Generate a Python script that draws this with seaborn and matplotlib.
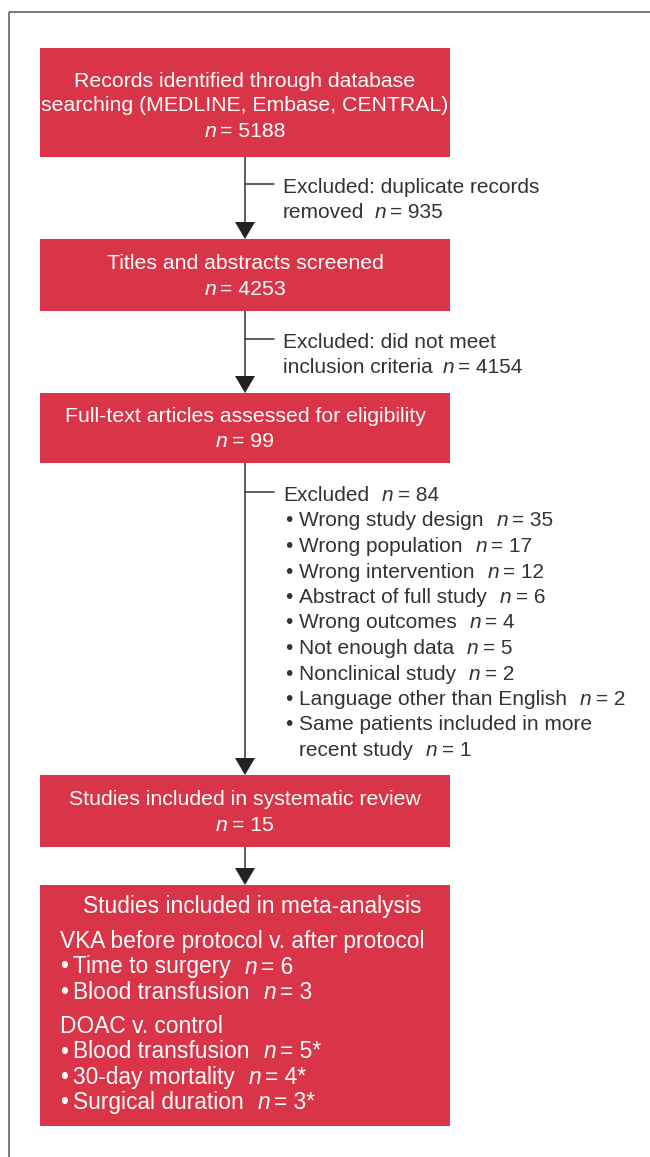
import matplotlib
matplotlib.use("Agg")
import matplotlib.pyplot as plt
from matplotlib.patches import Rectangle, Polygon
import seaborn as sns

# ---------------- data ----------------
stage_titles = [
    ["Records identified through database", "searching (MEDLINE, Embase, CENTRAL)"],
    ["Titles and abstracts screened"],
    ["Full-text articles assessed for eligibility"],
    ["Studies included in systematic review"],
]
stage_counts = ["5188", "4253", "99", "15"]

excluded_text = [
    ["Excluded: duplicate records", "removed"],
    ["Excluded: did not meet", "inclusion criteria"],
    ["Excluded"],
]
excluded_counts = ["935", "4154", "84"]

reason_labels = ["Wrong study design", "Wrong population", "Wrong intervention",
                 "Abstract of full study", "Wrong outcomes", "Not enough data",
                 "Nonclinical study", "Language other than English",
                 "Same patients included in more|recent study"]
reason_counts = ["35", "17", "12", "6", "4", "5", "2", "2", "1"]

meta_title = "Studies included in meta-analysis"
meta_groups = ["VKA before protocol v. after protocol", "DOAC v. control"]
vka_outcomes = ["Time to surgery", "Blood transfusion"]
vka_counts = ["6", "3"]
doac_outcomes = ["Blood transfusion", "30-day mortality", "Surgical duration"]
doac_counts = ["5*", "4*", "3*"]

# ---------------- style ----------------
sns.set_theme(style="white")
plt.rcParams['font.family'] = ['Liberation Sans', 'DejaVu Sans']

RED = "#D93448"
DARK = "#333333"
FRAME = "#555555"
BOX_FONT = 'Liberation Sans'
TXT_FONT = 'Liberation Sans'
BOX_SIZE = 15.3
META_SIZE = 16.4
TXT_SIZE = 15.0

W, H = 650, 1157
fig = plt.figure(figsize=(W / 100, H / 100), dpi=100)
ax = fig.add_axes([0, 0, 1, 1])
ax.set_xlim(0, W)
ax.set_ylim(H, 0)
ax.axis("off")
renderer = fig.canvas.get_renderer()


def rich(x, y, parts, family, size, color, ha="left"):
    objs = []
    cx = x
    for text, italic, gap in parts:
        cx += gap
        t = ax.text(cx, y, text, fontfamily=family, fontsize=size, color=color,
                    fontstyle="italic" if italic else "normal",
                    va="baseline", ha="left")
        cx += t.get_window_extent(renderer).width
        objs.append(t)
    if ha == "center":
        shift = (cx - x) / 2
        for t in objs:
            px, py = t.get_position()
            t.set_x(px - shift)


def n_parts(label, count, gap=9):
    parts = []
    if label:
        parts.append((label, False, 0))
        parts.append(("n", True, gap))
    else:
        parts.append(("n", True, 0))
    parts.append(("= " + count, False, 4))
    return parts


# frame
ax.plot([8.7, 8.7], [12, H], color=FRAME, lw=1.1, solid_capstyle="butt")
ax.plot([8.7, W], [12, 12], color=FRAME, lw=1.1, solid_capstyle="butt")

BOX_X0, BOX_X1 = 40, 450
ARROW_X = 245
stage_boxes = [(48, 157), (239, 311), (393, 463), (775, 847)]
meta_box = (885, 1126)
stage_baselines = [[87, 111, 137], [269, 295], [422, 447], [805, 831]]

# boxes
for (y0, y1) in stage_boxes + [meta_box]:
    ax.add_patch(Rectangle((BOX_X0, y0), BOX_X1 - BOX_X0, y1 - y0,
                           facecolor=RED, edgecolor="none", zorder=2))

# arrows
tops = [b[0] for b in stage_boxes[1:]] + [meta_box[0]]
bottoms = [b[1] for b in stage_boxes]
for yb, yt in zip(bottoms, tops):
    ax.plot([ARROW_X, ARROW_X], [yb, yt - 12], color=DARK, lw=1.1, zorder=1)
    ax.add_patch(Polygon([(ARROW_X - 10, yt - 17), (ARROW_X + 10, yt - 17), (ARROW_X, yt)],
                         closed=True, facecolor="#222222", edgecolor="none", zorder=3))

# stage text
for lines, count, bls in zip(stage_titles, stage_counts, stage_baselines):
    cx = (BOX_X0 + BOX_X1) / 2
    for line, bl in zip(lines, bls):
        ax.text(cx, bl, line, fontfamily=BOX_FONT, fontsize=BOX_SIZE, color="white",
                ha="center", va="baseline")
    rich(cx, bls[-1], n_parts("", count), BOX_FONT, BOX_SIZE, "white", ha="center")

# exclusions
TX = 283
excl_baselines = [[193, 218], [348, 373], [501]]
for lines, count, bls in zip(excluded_text, excluded_counts, excl_baselines):
    ax.plot([ARROW_X, ARROW_X + 29], [bls[0] - 9, bls[0] - 9], color=DARK, lw=1.1)
    for i, (line, bl) in enumerate(zip(lines, bls)):
        if i == len(lines) - 1:
            rich(TX, bl, n_parts(line, count, gap=13 if len(lines) == 1 else 10),
                 TXT_FONT, TXT_SIZE, DARK)
        else:
            ax.text(TX, bl, line, fontfamily=TXT_FONT, fontsize=TXT_SIZE, color=DARK,
                    va="baseline")

# reasons list
LS = 25.5
bl = 501 + LS
for label, count in zip(reason_labels, reason_counts):
    sub = label.split("|")
    ax.text(289, bl, "\u2022", fontfamily=TXT_FONT, fontsize=TXT_SIZE, color=DARK,
            ha="center", va="baseline")
    for j, s in enumerate(sub):
        if j == len(sub) - 1:
            rich(299, bl, n_parts(s, count, gap=13), TXT_FONT, TXT_SIZE, DARK)
        else:
            ax.text(299, bl, s, fontfamily=TXT_FONT, fontsize=TXT_SIZE, color=DARK,
                    va="baseline")
        bl += LS

# meta-analysis box
ax.text(83, 913, meta_title, fontfamily=BOX_FONT, fontsize=META_SIZE, color="white",
        va="baseline")
group_baselines = [948, 1033]
groups = [(vka_outcomes, vka_counts), (doac_outcomes, doac_counts)]
for gname, gbl, (outs, cnts) in zip(meta_groups, group_baselines, groups):
    ax.text(60, gbl, gname, fontfamily=BOX_FONT, fontsize=META_SIZE, color="white",
            va="baseline")
    b = gbl + 25.5
    for o, c in zip(outs, cnts):
        ax.text(64, b, "\u2022", fontfamily=BOX_FONT, fontsize=META_SIZE, color="white",
                ha="center", va="baseline")
        rich(73, b, n_parts(o, c, gap=14), BOX_FONT, META_SIZE, "white")
        b += 25.2

for t in ax.texts:
    t.set_zorder(4)

fig.savefig("out.png", dpi=100, facecolor="white")
